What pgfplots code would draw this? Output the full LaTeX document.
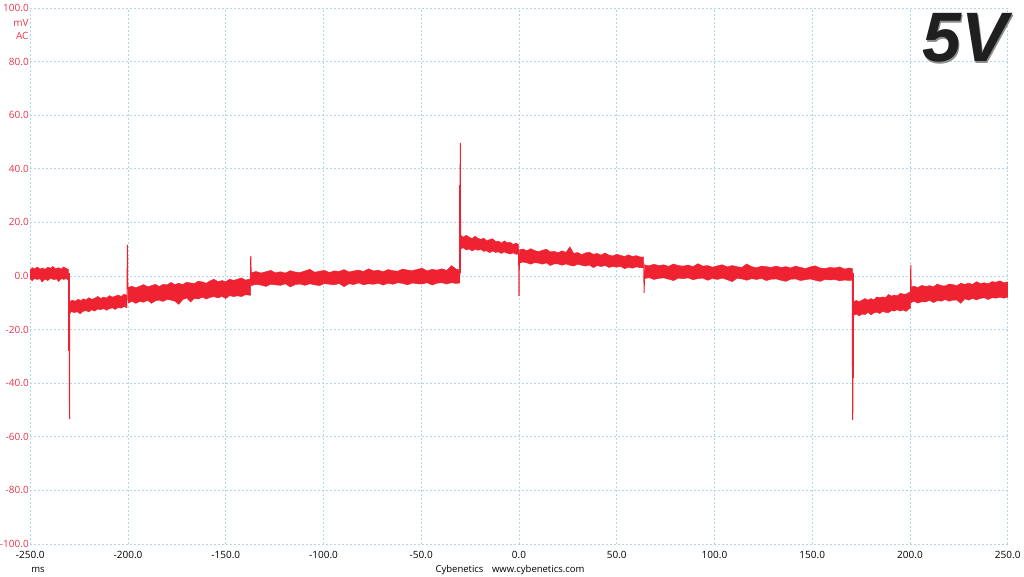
\documentclass[border=0pt]{standalone}
\usepackage{fontspec}
\setmainfont{Open Sans}
\newfontfamily\titlefont{Liberation Sans}
\usepackage{pgfplots}
\pgfplotsset{compat=1.18}
\definecolor{sig}{RGB}{238,34,48}
\definecolor{lab}{RGB}{230,52,74}
\definecolor{gridc}{RGB}{178,216,226}

\begin{document}
\begin{tikzpicture}
\path[use as bounding box] (-30.25pt,-32pt) rectangle (993.75pt,544pt);
\begin{axis}[
    at={(0pt,0pt)}, anchor=south west,
    scale only axis, width=977.5pt, height=536pt,
    xmin=-250, xmax=250, ymin=-100, ymax=100,
    xtick={-250,-200,...,250}, ytick={-100,-80,...,100},
    grid=major,
    grid style={color=gridc, line width=0.7pt, dash pattern=on 1.6pt off 2.4pt},
    axis line style={draw=none},
    major tick length=0pt,
    tick label style={font=\fontsize{10}{12}\selectfont},
    /pgf/number format/assume math mode=true,
    /pgf/number format/.cd, fixed, fixed zerofill, precision=1, /pgfplots/.cd,
    yticklabel style={text=lab, xshift=2pt},
    xticklabel style={text=black, anchor=center, yshift=-11pt},
    clip mode=individual,
    band/.style={draw=sig, line width=0.4pt, fill=sig},
    spike/.style={draw=sig, line width=1pt},
]
% noise band: upper edge left to right, lower edge back
\addplot[band] coordinates {
(-250,2.4)(-249,3.1)(-247.5,2.7)(-246.5,3.4)(-245,2.6)(-243.5,3.0)(-242.5,2.5)(-241,3.3)(-239.5,2.9)(-238.5,3.6)(-237,2.7)(-235.5,3.1)(-234,2.6)(-233,3.4)(-231.5,2.8)(-230.5,2.5)
(-230.5,-1.6)(-231.5,-1.0)(-233,-1.3)(-234,-0.9)(-235.5,-2.1)(-236.5,-1.1)(-238,-1.4)(-239.5,-0.8)(-241,-1.7)(-242.5,-1.2)(-244,-2.3)(-245,-1.0)(-246.5,-1.3)(-248,-0.9)(-249,-1.8)(-250,-1.1)
} -- cycle;
\addplot[band] coordinates {
(-229.8,-9.6)(-228.5,-9.0)(-227,-9.4)(-225.5,-8.7)(-224,-9.2)(-223,-8.5)(-221.5,-8.9)(-220,-8.1)(-218.5,-8.7)(-217,-8.3)(-215.5,-7.6)(-214,-8.4)(-212.5,-7.9)(-211,-8.2)(-209.5,-7.3)(-208,-7.9)(-206.5,-7.5)(-205,-7.1)(-203.5,-7.6)(-202,-6.8)(-200.5,-7.2)
(-200.5,-11.9)(-202,-11.4)(-203.5,-12.0)(-205,-11.7)(-206.5,-12.5)(-208,-11.9)(-209.5,-12.2)(-211,-12.8)(-212.5,-12.1)(-214,-12.6)(-215.5,-12.3)(-217,-13.1)(-218.5,-12.6)(-220,-13.4)(-221.5,-12.9)(-223,-13.2)(-224.5,-14.1)(-226,-13.3)(-227.5,-13.7)(-229,-13.2)(-229.8,-14.2)
} -- cycle;
\addplot[band] coordinates {
(-200,-4.3)(-198,-3.8)(-196,-4.4)(-194,-3.8)(-192,-3.2)(-190,-4.0)(-188,-3.6)(-186,-3.1)(-184,-3.9)(-182,-3.1)(-180,-3.3)(-178,-2.4)(-176,-3.2)(-174,-2.7)(-172,-3.2)(-170,-2.3)(-168,-2.6)(-166,-2.8)(-164,-1.9)(-162,-2.2)(-160,-2.7)(-158,-1.8)(-156,-1.2)(-154,-2.1)(-152,-1.7)(-150,-2.1)(-148,-1.2)(-146,-1.6)(-144,-1.2)(-142,-0.7)(-140,-1.5)(-137.3,-1.1)
(-137.3,-7.2)(-140,-7.0)(-142,-7.7)(-144,-7.4)(-146,-7.7)(-148,-7.3)(-150,-8.4)(-152,-7.6)(-154,-8.2)(-156,-7.7)(-158,-8.0)(-160,-8.6)(-162,-7.9)(-164,-8.6)(-166,-8.3)(-168,-9.7)(-170,-8.2)(-172,-8.8)(-174,-10.6)(-176,-9.4)(-178,-9.0)(-180,-8.7)(-182,-9.5)(-184,-9.0)(-186,-9.3)(-188,-10.2)(-190,-9.1)(-192,-9.8)(-194,-9.5)(-196,-10.2)(-198,-9.5)(-200,-10.1)
} -- cycle;
\addplot[band] coordinates {
(-137,1.2)(-134.5,1.7)(-132,1.1)(-129.5,1.6)(-127,2.1)(-124.5,1.2)(-122,1.6)(-119.5,1.1)(-117,2.0)(-114.5,1.5)(-112,1.3)(-109.5,1.9)(-107,2.5)(-104.5,1.4)(-102,1.8)(-99.5,2.1)(-97,1.3)(-94.5,1.9)(-92,1.7)(-89.5,2.4)(-87,1.5)(-84.5,1.9)(-82,2.2)(-79.5,1.7)(-77,2.7)(-74.5,1.9)(-72,2.2)(-69.5,1.6)(-67,2.4)(-64.5,2.0)(-62,1.8)(-59.5,2.6)(-57,2.2)(-54.5,2.0)(-52,2.5)(-49.5,2.9)(-47,1.9)(-44.5,2.5)(-42,2.2)(-39.5,2.7)(-37,2.1)(-34.5,3.9)(-32,2.5)(-30.3,2.3)
(-30.3,-2.6)(-32,-2.8)(-34.5,-2.5)(-37,-3.0)(-39.5,-2.5)(-42,-2.7)(-44.5,-3.4)(-47,-2.5)(-49.5,-3.0)(-52,-2.9)(-54.5,-2.6)(-57,-3.3)(-59.5,-2.8)(-62,-2.5)(-64.5,-3.1)(-67,-2.7)(-69.5,-3.4)(-72,-2.7)(-74.5,-3.1)(-77,-2.9)(-79.5,-3.3)(-82,-2.6)(-84.5,-3.2)(-87,-2.9)(-89.5,-4.0)(-92,-2.8)(-94.5,-3.3)(-97,-3.1)(-99.5,-2.8)(-102,-3.6)(-104.5,-3.3)(-107,-2.9)(-109.5,-3.5)(-112,-3.0)(-114.5,-3.2)(-117,-4.1)(-119.5,-2.9)(-122,-3.5)(-124.5,-3.3)(-127,-3.1)(-129.5,-3.9)(-132,-3.4)(-134.5,-3.1)(-137,-3.6)
} -- cycle;
\addplot[band] coordinates {
(-30,15.3)(-28.5,14.5)(-27,15.2)(-25.5,14.5)(-24,14.0)(-22.5,14.8)(-21,14.1)(-19.5,13.7)(-18,14.1)(-16.5,13.2)(-15,13.6)(-13.5,13.9)(-12,12.9)(-10.5,13.0)(-9,12.3)(-7.5,13.1)(-6,12.4)(-4.5,12.6)(-3,11.8)(-1.5,12.3)(-0.3,11.8)
(-0.3,8.2)(-1.5,8.1)(-3,8.6)(-4.5,8.2)(-6,8.5)(-7.5,9.0)(-9,8.4)(-10.5,9.0)(-12,8.8)(-13.5,9.3)(-15,8.7)(-16.5,9.4)(-18,9.2)(-19.5,9.9)(-21,9.6)(-22.5,10.0)(-24,9.3)(-25.5,10.1)(-27,9.7)(-28.5,10.5)(-30,10.1)
} -- cycle;
\addplot[band] coordinates {
(0.3,9.8)(2,10.1)(4,9.4)(6,10.2)(8,9.5)(10,9.1)(12,9.6)(14,10.0)(16,9.0)(18,9.2)(20,8.7)(22,9.4)(24,8.8)(26,10.9)(28,8.4)(30,8.8)(32,8.0)(34,8.6)(36,8.9)(38,8.1)(40,8.4)(42,7.8)(44,8.6)(46,7.8)(48,7.5)(50,8.1)(52,7.7)(54,7.3)(56,7.9)(58,7.3)(60,7.6)(62,7.1)(63.8,7.1)
(63.8,3.0)(62,3.1)(60,3.4)(58,2.9)(56,3.3)(54,2.7)(52,3.6)(50,3.3)(48,3.5)(46,3.2)(44,3.9)(42,3.5)(40,3.9)(38,3.1)(36,4.1)(34,3.7)(32,4.0)(30,4.4)(28,3.7)(26,4.0)(24,4.5)(22,4.0)(20,4.5)(18,4.5)(16,3.9)(14,4.9)(12,4.4)(10,4.8)(8,5.0)(6,4.4)(4,4.9)(2,5.2)(0.3,4.8)
} -- cycle;
\addplot[band] coordinates {
(64.2,4.2)(66.5,3.8)(69,4.4)(71.5,3.9)(74,4.2)(76.5,3.6)(79,4.5)(81.5,3.9)(84,3.7)(86.5,4.1)(89,3.5)(91.5,4.6)(94,3.7)(96.5,3.9)(99,3.3)(101.5,3.8)(104,4.2)(106.5,3.4)(109,3.9)(111.5,3.5)(114,3.2)(116.5,4.5)(119,3.5)(121.5,3.1)(124,3.7)(126.5,3.5)(129,3.2)(131.5,3.7)(134,3.2)(136.5,3.5)(139,3.0)(141.5,3.7)(144,3.2)(146.5,2.8)(149,3.4)(151.5,3.8)(154,3.0)(156.5,2.8)(159,3.2)(161.5,3.0)(164,3.4)(166.5,2.6)(169,3.0)(170.5,2.8)
(170.5,-1.5)(169,-1.7)(166.5,-1.5)(164,-1.8)(161.5,-1.3)(159,-1.5)(156.5,-1.3)(154,-2.0)(151.5,-1.6)(149,-1.1)(146.5,-1.4)(144,-1.7)(141.5,-1.1)(139,-1.2)(136.5,-2.0)(134,-1.6)(131.5,-1.1)(129,-1.2)(126.5,-1.7)(124,-0.9)(121.5,-1.3)(119,-1.0)(116.5,-1.6)(114,-1.1)(111.5,-0.9)(109,-2.1)(106.5,-1.4)(104,-0.8)(101.5,-1.3)(99,-0.9)(96.5,-1.6)(94,-0.8)(91.5,-1.0)(89,-1.4)(86.5,-0.7)(84,-1.0)(81.5,-0.8)(79,-1.7)(76.5,-1.2)(74,-0.7)(71.5,-0.9)(69,-1.3)(66.5,-0.6)(64.2,-1.0)
} -- cycle;
\addplot[band] coordinates {
(170.9,-9.7)(172.5,-9.1)(174,-9.6)(175.5,-9.0)(177,-8.4)(178.5,-9.0)(180,-8.4)(181.5,-8.9)(183,-7.8)(184.5,-8.1)(186,-7.8)(187.5,-8.1)(189,-6.9)(190.5,-7.5)(192,-7.1)(193.5,-7.4)(195,-6.5)(196.5,-6.7)(198,-6.8)(199.5,-6.1)(200.3,-6.3)
(200.3,-12.0)(199.5,-12.3)(198,-13.2)(196.5,-12.7)(195,-13.1)(193.5,-12.6)(192,-13.1)(190.5,-12.9)(189,-13.7)(187.5,-13.6)(186,-13.2)(184.5,-14.0)(183,-13.5)(181.5,-13.8)(180,-14.5)(178.5,-13.6)(177,-14.4)(175.5,-14.2)(174,-14.9)(172.5,-14.2)(170.9,-14.8)
} -- cycle;
\addplot[band] coordinates {
(200.5,-4.2)(202,-3.8)(204,-4.3)(206,-3.5)(208,-3.9)(210,-3.6)(212,-4.0)(214,-3.0)(216,-3.6)(218,-3.7)(220,-3.0)(222,-3.2)(224,-3.6)(226,-2.7)(228,-3.1)(230,-2.7)(232,-3.1)(234,-2.1)(236,-2.8)(238,-2.5)(240,-2.9)(242,-2.1)(244,-2.3)(246,-1.8)(248,-2.5)(250,-2.2)
(250,-7.9)(248,-8.3)(246,-7.9)(244,-8.3)(242,-8.1)(240,-8.8)(238,-8.1)(236,-8.4)(234,-8.9)(232,-8.4)(230,-9.0)(228,-8.5)(226,-10.2)(224,-9.0)(222,-9.0)(220,-9.4)(218,-8.8)(216,-9.4)(214,-9.2)(212,-9.9)(210,-9.1)(208,-9.7)(206,-9.6)(204,-10.1)(202,-9.4)(200.5,-10.0)
} -- cycle;
% spikes at the switching edges
\addplot[draw=sig, line width=2pt] coordinates {(-230.1,1) (-230.1,-28)};
\addplot[spike] coordinates {(-230.3,1) (-230.0,-30) (-229.9,-53.4) (-229.8,-12)};
\addplot[spike] coordinates {(-200.5,-9) (-200.3,11.6) (-200.1,-5)};
\addplot[spike] coordinates {(-137.4,-3) (-137.2,7.5) (-137.0,0)};
\addplot[draw=sig, line width=2pt] coordinates {(-30.1,1) (-30.1,34)};
\addplot[spike] coordinates {(-30.3,0) (-30.1,35) (-30.0,49.6) (-29.9,12)};
\addplot[spike] coordinates {(-0.2,10) (0.0,-7.5) (0.2,8)};
\addplot[spike] coordinates {(63.8,5) (64.0,-6.3) (64.2,2)};
\addplot[draw=sig, line width=2pt] coordinates {(170.7,1) (170.7,-38)};
\addplot[spike] coordinates {(170.5,1) (170.6,-40) (170.7,-53.7) (170.9,-12)};
\addplot[spike] coordinates {(200.2,-9) (200.4,4.1) (200.6,-6)};
% big 5V label
\node[text=black!45, font=\titlefont\bfseries\itshape\fontsize{70}{70}\selectfont] at (axis cs:228.9,88.3) {5V};
\node[text=black!88, font=\titlefont\bfseries\itshape\fontsize{70}{70}\selectfont] at (axis cs:228.1,88.8) {5V};
\end{axis}
\node[anchor=east, text=lab, inner sep=0pt, font=\fontsize{10}{12}\selectfont] at (-1.5pt,521pt) {mV};
\node[anchor=east, text=lab, inner sep=0pt, font=\fontsize{10}{12}\selectfont] at (-1.5pt,508pt) {AC};
\node[inner sep=0pt, font=\fontsize{9.5}{11}\selectfont] at (7.75pt,-26pt) {ms};
\node[inner sep=0pt, font=\fontsize{9.5}{11}\selectfont] at (479.75pt,-26pt) {Cybenetics\hspace{0.9em}www.cybenetics.com};
\end{tikzpicture}
\end{document}
